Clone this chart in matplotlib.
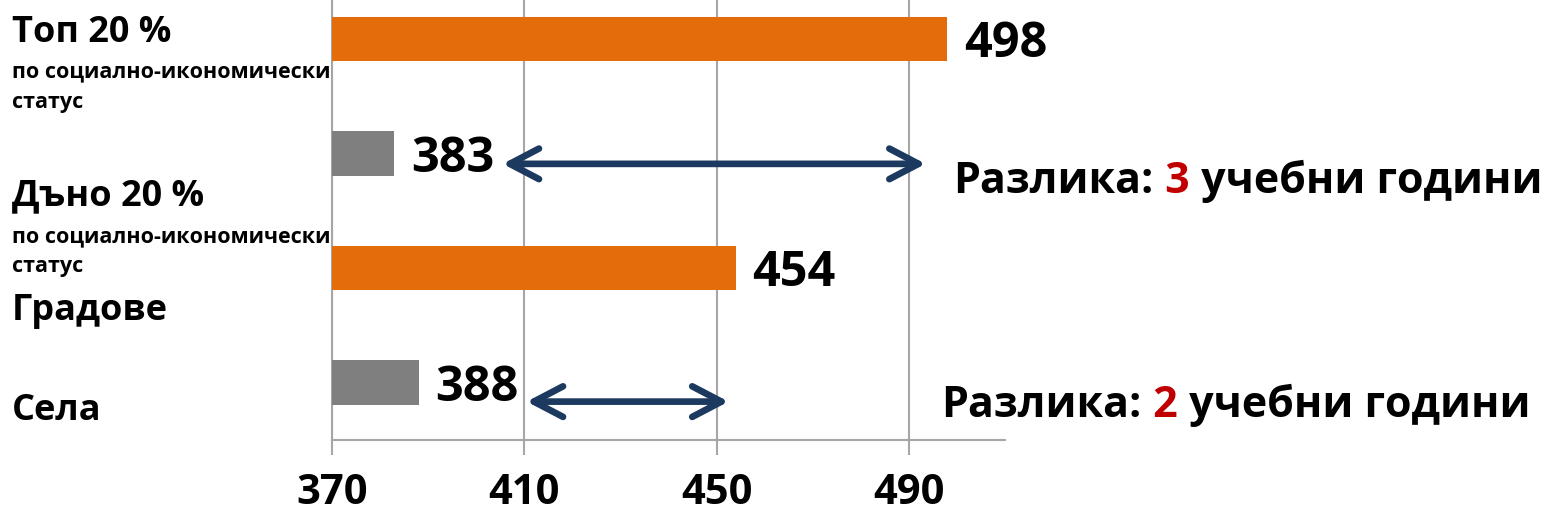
import matplotlib
matplotlib.use('Agg')
import matplotlib.pyplot as plt

plt.rcParams['font.family'] = ['Open Sans', 'DejaVu Sans']
plt.rcParams['font.weight'] = 'bold'

# Данни
categories = ['Топ 20 %', 'Дъно 20 %', 'Градове', 'Села']
scores = [498, 383, 454, 388]
bar_colors = ['#E46C0A', '#7F7F7F', '#E46C0A', '#7F7F7F']
xticks = [370, 410, 450, 490]

# разлики (стрелки) и надписи към тях
gap_spans = [(405.5, 493.5), (410.5, 452.5)]
gap_years = ['3', '2']

W, H = 1552, 519
fig = plt.figure(figsize=(W / 100, H / 100), dpi=100)
ax = fig.add_axes([332 / W, 1 - 440 / H, (1005 - 332) / W, 440 / H])

ypos = list(range(len(scores)))
ax.barh(ypos, scores, height=0.39, color=bar_colors, zorder=3)

for y, v in zip(ypos, scores):
    ax.annotate(str(v), xy=(v, y), xytext=(12, -4), textcoords='offset points',
                ha='left', va='center', fontsize=35, fontweight='bold', zorder=4)

ax.set_xlim(370, 510)
ax.set_ylim(3.5, -0.34)
ax.set_xticks(xticks)
ax.set_yticks([])
ax.xaxis.grid(True, color='#A6A6A6', lw=1.5, zorder=0)
for s in ['top', 'right']:
    ax.spines[s].set_visible(False)
for s in ['left', 'bottom']:
    ax.spines[s].set_color('#A6A6A6')
    ax.spines[s].set_linewidth(1.5)
ax.tick_params(axis='x', length=11, width=1.5, color='#A6A6A6', pad=13,
               labelsize=30)
for lab in ax.get_xticklabels():
    lab.set_fontweight('bold')

# стрелки
arrow_y = [1.09, 3.165]
for (x0, x1), y in zip(gap_spans, arrow_y):
    ax.annotate('', xy=(x0, y), xytext=(x1, y), annotation_clip=False,
                arrowprops=dict(arrowstyle='<->,head_length=1.05,head_width=0.55',
                                color='#1C3A5F', lw=4.8, mutation_scale=20,
                                shrinkA=0, shrinkB=0, capstyle='round',
                                joinstyle='round'))

# надписи „Разлика“
text_pos = [(499.3, 1.43), (496.8, 3.39)]
for (tx, ty), yrs in zip(text_pos, gap_years):
    t1 = ax.text(tx, ty, 'Разлика:', fontsize=31, fontweight='bold',
                 ha='left', va='bottom', clip_on=False)
    t2 = ax.annotate(' ' + yrs, xy=(1, 0), xycoords=t1, fontsize=31,
                     fontweight='bold', color='#C00000', ha='left', va='bottom')
    ax.annotate(' учебни години', xy=(1, 0), xycoords=t2, fontsize=31,
                fontweight='bold', ha='left', va='bottom')

# етикети вляво
left_labels = [
    ('Топ 20 %', 26, 42),
    ('по социално-икономически', 15.5, 77),
    ('статус', 15.5, 108),
    ('Дъно 20 %', 26, 205),
    ('по социално-икономически', 15.5, 242),
    ('статус', 15.5, 272),
    ('Градове', 26, 320),
    ('Села', 26, 420),
]
for txt, size, base in left_labels:
    fig.text(12 / W, 1 - base / H, txt, fontsize=size, fontweight='bold',
             ha='left', va='baseline')

fig.savefig('out.png', dpi=100)
